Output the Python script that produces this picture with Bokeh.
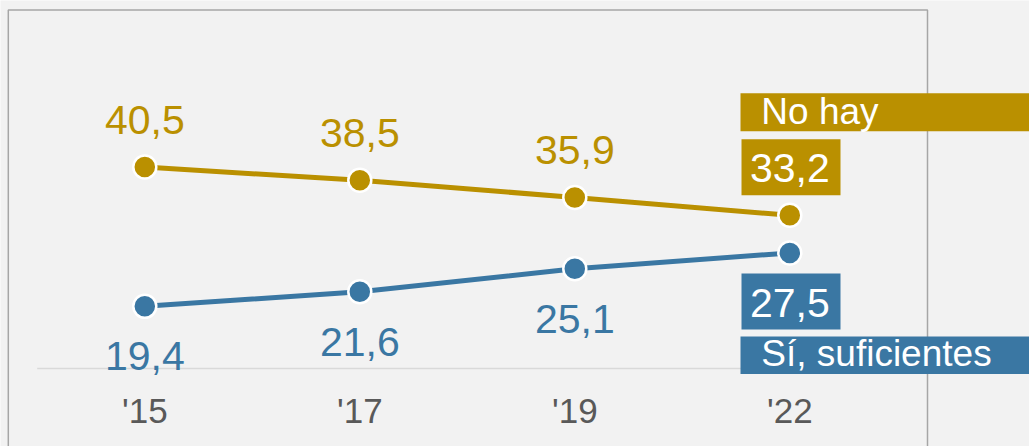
from bokeh.plotting import figure
from bokeh.core.properties import value
from bokeh.embed import file_html
from bokeh.resources import INLINE

# ---- data ----
years = ["'15", "'17", "'19", "'22"]
no_hay = [40.5, 38.5, 35.9, 33.2]
si_suficientes = [19.4, 21.6, 25.1, 27.5]
series_names = ["No hay", "Sí, suficientes"]
baseline_value = 10

# ---- style ----
GOLD = "#BA9000"
BLUE = "#3A77A3"
BG = "#F2F2F2"
FONT = "Liberation Sans"

W, H = 1029, 446
PX_X = 215.0   # pixels per category step
PX_Y = 6.6     # pixels per percentage point
x_start = -144.3 / PX_X
x_end = x_start + W / PX_X
y_end = 433.9 / PX_Y
y_start = y_end - H / PX_Y

# label offsets (screen px)
GOLD_OFF = -47
BLUE_OFF = 50
LEG_GOLD_OFF = -104
LEG_BLUE_OFF = 100.5
TICK_OFF = 42


def dx(px):
    return px / PX_X


def dy(px):
    return px / PX_Y


def fmt(v):
    return f"{v:.1f}".replace(".", ",")


idx = list(range(len(years)))
last = idx[-1]

p = figure(width=W, height=H, x_range=(x_start, x_end), y_range=(y_start, y_end),
           output_backend="svg", toolbar_location=None, min_border=0,
           x_axis_type=None, y_axis_type=None,
           background_fill_color=BG, border_fill_color=BG, outline_line_color=None)
p.grid.visible = False

# frame border (open at the bottom)
p.quad(left=x_start + dx(7.8), right=x_start + dx(927), top=y_end - dy(9.5),
       bottom=y_start - 5, fill_color=None, line_color="#A6A6A6", line_width=1.5)

# baseline
p.segment(x0=x_start + dx(36.7), y0=baseline_value, x1=x_start + dx(927),
          y1=baseline_value, line_color="#D9D9D9", line_width=1.5)

# lines + markers
for vals, col in ((no_hay, GOLD), (si_suficientes, BLUE)):
    p.line(idx, vals, line_color=col, line_width=5)
    p.scatter(idx, vals, size=23, fill_color=col, line_color="white", line_width=2.5)

# value labels (first three)
p.text(x=idx[:-1], y=no_hay[:-1], text=[fmt(v) for v in no_hay[:-1]],
       text_color=GOLD, text_font=value(FONT), text_font_size="41px",
       text_align="center", text_baseline="alphabetic", y_offset=GOLD_OFF)
p.text(x=idx[:-1], y=si_suficientes[:-1], text=[fmt(v) for v in si_suficientes[:-1]],
       text_color=BLUE, text_font=value(FONT), text_font_size="41px",
       text_align="center", text_baseline="alphabetic", y_offset=BLUE_OFF)

# boxes for last values
p.quad(left=last + dx(-48.3), right=last + dx(50.7),
       top=no_hay[-1] + dy(76), bottom=no_hay[-1] + dy(20),
       fill_color=GOLD, line_color=None)
p.quad(left=last + dx(-48.3), right=last + dx(50.7),
       top=si_suficientes[-1] - dy(20.7), bottom=si_suficientes[-1] - dy(76.7),
       fill_color=BLUE, line_color=None)
# legend boxes
p.quad(left=last + dx(-49.3), right=last + dx(400),
       top=no_hay[-1] + dy(122), bottom=no_hay[-1] + dy(84),
       fill_color=GOLD, line_color=None)
p.quad(left=last + dx(-49.3), right=last + dx(400),
       top=si_suficientes[-1] - dy(83.7), bottom=si_suficientes[-1] - dy(121),
       fill_color=BLUE, line_color=None)

# last value texts
p.text(x=[last], y=[no_hay[-1]], text=[fmt(no_hay[-1])], text_color="white",
       text_font=value(FONT), text_font_size="41px", text_align="center",
       text_baseline="alphabetic", y_offset=GOLD_OFF)
p.text(x=[last], y=[si_suficientes[-1]], text=[fmt(si_suficientes[-1])], text_color="white",
       text_font=value(FONT), text_font_size="41px", text_align="center",
       text_baseline="alphabetic", y_offset=BLUE_OFF)

# legend texts
p.text(x=[last], y=[no_hay[-1]], text=[series_names[0]], text_color="white",
       text_font=value(FONT), text_font_size="37px", text_align="left",
       text_baseline="alphabetic", x_offset=-28.5, y_offset=LEG_GOLD_OFF)
p.text(x=[last], y=[si_suficientes[-1]], text=[series_names[1]], text_color="white",
       text_font=value(FONT), text_font_size="37px", text_align="left",
       text_baseline="alphabetic", x_offset=-28.5, y_offset=LEG_BLUE_OFF)

# category tick labels
p.text(x=idx, y=[baseline_value] * len(idx), text=years, text_color="#595959",
       text_font=value(FONT), text_font_size="35px", text_align="center",
       text_baseline="alphabetic", y_offset=TICK_OFF)

html = file_html(p, INLINE, title="chart")
html = html.replace("<body>", '<body style="margin:0; background-color:#F2F2F2; overflow:hidden;">', 1)
open("out.html", "w").write(html)
